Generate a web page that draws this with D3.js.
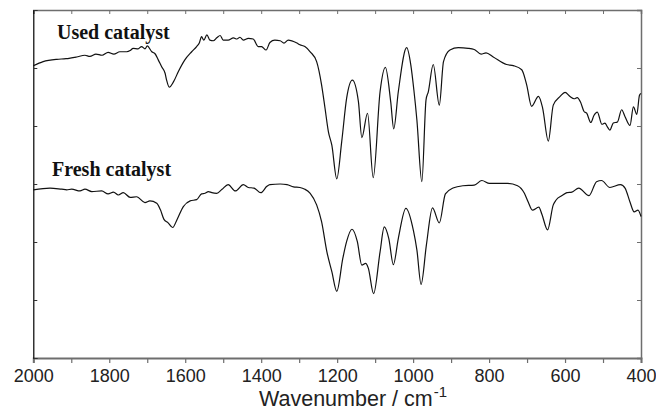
<!DOCTYPE html>
<html>
<head>
<meta charset="utf-8">
<script src="https://cdn.jsdelivr.net/npm/d3@7"></script>
<style>
  html, body { margin: 0; padding: 0; background: #fff; }
  svg { display: block; }
</style>
</head>
<body>
<div id="chart"></div>
<script>
const width = 656;
const height = 411;
const margin = { top: 10, right: 15, bottom: 53, left: 33.3 };

// FTIR spectra, wavenumber (cm-1) and transmittance (a.u.)
const usedWavenumber = [
  2000, 1974, 1938, 1914, 1886, 1864, 1851, 1835, 1819, 1803, 1788, 1772, 1754, 1745,
  1737, 1724, 1715, 1706, 1700, 1688, 1680, 1671, 1662, 1653, 1649, 1642, 1631, 1618,
  1601, 1583, 1570, 1563, 1557, 1551, 1543, 1535, 1526, 1517, 1508, 1500, 1487, 1473,
  1464, 1456, 1447, 1434, 1421, 1408, 1399, 1387, 1377, 1364, 1350, 1340, 1329, 1306,
  1298, 1285, 1271, 1254, 1241, 1232, 1223, 1214, 1201, 1188, 1175, 1160, 1144, 1135,
  1120, 1105, 1087, 1073, 1059, 1051, 1039, 1017, 1006, 998, 990, 977, 966, 960,
  947, 931, 920, 903, 881, 855, 839, 821, 808, 789, 754, 736, 714, 701,
  688, 670, 659, 644, 631, 613, 600, 587, 576, 568, 559, 550, 543, 532,
  524, 515, 503, 495, 489, 482, 473, 462, 451, 442, 429, 420, 411, 404, 400
];
const usedValue = [
  5.04, 5.11, 5.15, 5.16, 5.19, 5.22, 5.20, 5.24, 5.22, 5.27, 5.24, 5.28, 5.28, 5.30,
  5.34, 5.33, 5.37, 5.33, 5.38, 5.28, 5.25, 5.14, 5.02, 4.91, 4.79, 4.67, 4.76, 4.94,
  5.14, 5.28, 5.37, 5.43, 5.54, 5.48, 5.57, 5.48, 5.47, 5.52, 5.56, 5.48, 5.48, 5.52,
  5.50, 5.53, 5.48, 5.51, 5.50, 5.37, 5.37, 5.31, 5.44, 5.48, 5.47, 5.43, 5.48, 5.43,
  5.40, 5.37, 5.28, 5.11, 4.71, 4.31, 3.90, 3.67, 3.09, 3.73, 4.48, 4.79, 4.42, 3.80,
  4.22, 3.11, 4.59, 5.01, 4.42, 3.95, 4.59, 5.35, 5.05, 4.62, 4.10, 3.04, 4.45, 4.59,
  5.06, 4.36, 5.11, 5.31, 5.35, 5.34, 5.32, 5.24, 5.26, 5.19, 5.06, 5.04, 4.97, 4.71,
  4.34, 4.51, 4.31, 3.74, 4.36, 4.51, 4.58, 4.51, 4.47, 4.49, 4.41, 4.25, 4.22, 4.06,
  4.18, 4.24, 4.03, 4.05, 3.99, 3.93, 4.05, 4.07, 4.28, 4.16, 4.01, 4.33, 4.20, 4.53, 4.56
];

const freshWavenumber = [
  2000, 1956, 1925, 1912, 1899, 1877, 1864, 1846, 1820, 1803, 1789, 1776, 1763, 1745,
  1728, 1706, 1693, 1675, 1665, 1656, 1645, 1633, 1622, 1605, 1587, 1570, 1557, 1548,
  1539, 1530, 1517, 1503, 1487, 1468, 1447, 1434, 1419, 1401, 1385, 1377, 1350, 1332,
  1315, 1298, 1285, 1271, 1254, 1241, 1227, 1214, 1201, 1185, 1175, 1161, 1147, 1135,
  1125, 1118, 1104, 1087, 1076, 1064, 1052, 1039, 1019, 999, 990, 979, 965, 949,
  931, 915, 895, 869, 839, 819, 799, 751, 725, 707, 697, 686, 669, 661,
  646, 631, 624, 608, 595, 582, 564, 537, 517, 504, 482, 454, 442, 429,
  418, 408, 400
];
const freshValue = [
  2.90, 2.93, 2.91, 2.90, 2.91, 2.88, 2.91, 2.87, 2.88, 2.83, 2.86, 2.81, 2.85, 2.77,
  2.78, 2.68, 2.71, 2.67, 2.55, 2.39, 2.33, 2.25, 2.38, 2.61, 2.71, 2.73, 2.83, 2.84,
  2.87, 2.85, 2.84, 2.91, 2.99, 2.88, 2.99, 2.94, 2.93, 2.85, 2.96, 2.99, 3.00, 2.99,
  2.95, 2.94, 2.91, 2.84, 2.64, 2.35, 1.83, 1.49, 1.15, 1.72, 2.01, 2.22, 2.01, 1.60,
  1.63, 1.55, 1.11, 1.83, 2.26, 2.06, 1.61, 2.06, 2.58, 2.19, 1.86, 1.27, 1.95, 2.59,
  2.33, 2.83, 2.93, 2.97, 2.98, 3.06, 3.01, 3.01, 2.97, 2.84, 2.69, 2.55, 2.60, 2.48,
  2.21, 2.64, 2.72, 2.80, 2.85, 2.86, 2.93, 2.80, 3.04, 3.06, 2.94, 2.99, 2.93, 2.69,
  2.52, 2.55, 2.44
];

const seriesNames = ["Used catalyst", "Fresh catalyst"];
const xTicks = d3.range(400, 2001, 100);
const yTicks = [0, 1, 2, 3, 4, 5, 6];

const svg = d3.select("#chart")
  .append("svg")
  .attr("width", width)
  .attr("height", height);

const x = d3.scaleLinear()
  .domain([2000, 400])
  .range([margin.left, width - margin.right]);

const y = d3.scaleLinear()
  .domain([0, 6])
  .range([height - margin.bottom, margin.top]);

const frameColor = "#6e6e6e";

// bottom axis
const xAxis = svg.append("g")
  .attr("transform", `translate(0, ${y(0)})`)
  .call(
    d3.axisBottom(x)
      .tickValues(xTicks)
      .tickSize(5)
      .tickPadding(6)
      .tickFormat((d) => (d % 200 === 0 ? d : "")),
  );
xAxis.select(".domain").attr("stroke", frameColor).attr("stroke-width", 2);
xAxis.selectAll(".tick line").attr("stroke", frameColor).attr("stroke-width", 1.2);
xAxis.selectAll(".tick text")
  .attr("fill", "#222")
  .attr("font-family", "'Liberation Sans', Arial, sans-serif")
  .attr("font-size", 18);

// top axis, ticks inside
const xTop = svg.append("g")
  .attr("transform", `translate(0, ${y(6)})`)
  .call(d3.axisTop(x).tickValues(xTicks).tickSize(-4).tickFormat(""));
xTop.select(".domain").attr("stroke", frameColor).attr("stroke-width", 1.5);
xTop.selectAll(".tick line").attr("stroke", frameColor);

// right axis, ticks inside
const yRight = svg.append("g")
  .attr("transform", `translate(${x(400)}, 0)`)
  .call(d3.axisRight(y).tickValues(yTicks).tickSize(-4).tickFormat(""));
yRight.select(".domain").attr("stroke", frameColor).attr("stroke-width", 1.5);
yRight.selectAll(".tick line").attr("stroke", frameColor);

// left axis, ticks inside
const yLeft = svg.append("g")
  .attr("transform", `translate(${x(2000)}, 0)`)
  .call(d3.axisLeft(y).tickValues(yTicks).tickSize(-4).tickFormat(""));
yLeft.select(".domain").attr("stroke", "#000").attr("stroke-width", 1.2);
yLeft.selectAll(".tick line").attr("stroke", "#333");

// spectra
const line = d3.line()
  .x((d) => x(d[0]))
  .y((d) => y(d[1]))
  .curve(d3.curveMonotoneX);

const usedData = usedWavenumber.map((w, i) => [w, usedValue[i]]);
const freshData = freshWavenumber.map((w, i) => [w, freshValue[i]]);

svg.selectAll(".spectrum")
  .data([usedData, freshData])
  .join("path")
  .attr("class", "spectrum")
  .attr("fill", "none")
  .attr("stroke", "#111")
  .attr("stroke-width", 1.2)
  .attr("stroke-linejoin", "round")
  .attr("d", line);

// curve labels
svg.selectAll(".series-label")
  .data(seriesNames)
  .join("text")
  .attr("class", "series-label")
  .attr("x", (d, i) => (i === 0 ? 57 : 52))
  .attr("y", (d, i) => (i === 0 ? 39 : 176))
  .attr("font-family", "'Liberation Serif', 'Times New Roman', serif")
  .attr("font-weight", "bold")
  .attr("font-size", 20)
  .attr("fill", "#111")
  .text((d) => d);

// x axis title
const title = svg.append("text")
  .attr("x", 259)
  .attr("y", 406)
  .attr("font-family", "'Liberation Sans', Arial, sans-serif")
  .attr("font-size", 21.5)
  .attr("fill", "#222");
title.append("tspan").text("Wavenumber / cm");
title.append("tspan")
  .attr("dx", 1)
  .attr("dy", -9)
  .attr("font-size", 15)
  .text("-1");
</script>
</body>
</html>
